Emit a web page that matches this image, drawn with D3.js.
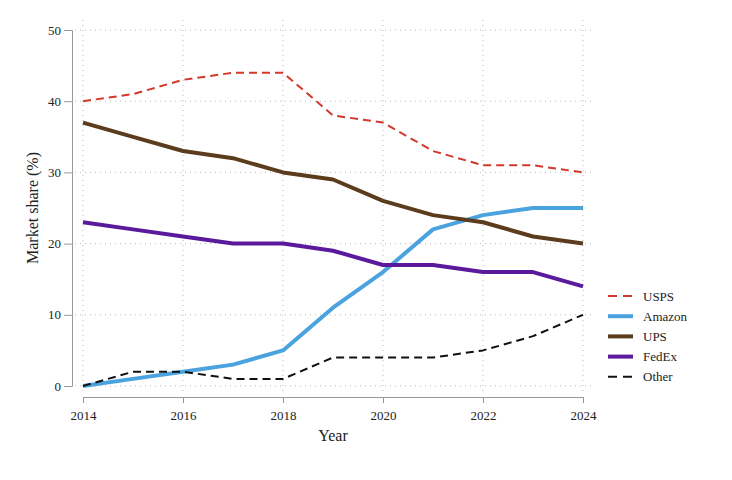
<!DOCTYPE html>
<html>
<head>
<meta charset="utf-8">
<script src="https://cdn.jsdelivr.net/npm/d3@7"></script>
<style>
  body { margin: 0; background: #fff; }
</style>
</head>
<body>
<div id="chart"></div>
<script>
const years = [2014, 2015, 2016, 2017, 2018, 2019, 2020, 2021, 2022, 2023, 2024];
const usps = [40, 41, 43, 44, 44, 38, 37, 33, 31, 31, 30];
const amazon = [0, 1, 2, 3, 5, 11, 16, 22, 24, 25, 25];
const ups = [37, 35, 33, 32, 30, 29, 26, 24, 23, 21, 20];
const fedex = [23, 22, 21, 20, 20, 19, 17, 17, 16, 16, 14];
const other = [0, 2, 2, 1, 1, 4, 4, 4, 5, 7, 10];
const xTicks = [2014, 2016, 2018, 2020, 2022, 2024];
const yTicks = [0, 10, 20, 30, 40, 50];

const series = [
  { name: "USPS", values: usps, color: "#d2382b", width: 2, dash: "8,5" },
  { name: "Amazon", values: amazon, color: "#4aa3df", width: 4, dash: null },
  { name: "UPS", values: ups, color: "#5b3c1c", width: 4, dash: null },
  { name: "FedEx", values: fedex, color: "#5a1a9b", width: 4, dash: null },
  { name: "Other", values: other, color: "#111", width: 2, dash: "8,5" }
];

const serif = '"Liberation Serif", "DejaVu Serif", serif';
const width = 732, height = 480;
const svg = d3.select("#chart").append("svg")
  .attr("width", width)
  .attr("height", height);

const x = d3.scaleLinear().domain([2014, 2024]).range([83, 583]);
const y = d3.scaleLinear().domain([0, 50]).range([386, 30]);

// grid
const grid = svg.append("g");
grid.selectAll(".hg").data(yTicks).join("line")
  .attr("x1", 75).attr("x2", 593)
  .attr("y1", d => y(d)).attr("y2", d => y(d))
  .style("stroke", "#bbb").style("stroke-width", 1)
  .style("stroke-dasharray", "1,4");
grid.selectAll(".vg").data(xTicks).join("line")
  .attr("x1", d => x(d)).attr("x2", d => x(d))
  .attr("y1", 20).attr("y2", 393)
  .style("stroke", "#bbb").style("stroke-width", 1)
  .style("stroke-dasharray", "1,4");

// axes
svg.append("g")
  .attr("transform", "translate(72,0)")
  .call(d3.axisLeft(y).tickValues(yTicks).tickSize(8).tickPadding(3))
  .attr("font-family", serif)
  .call(g => g.select(".domain").attr("stroke", "#999"))
  .call(g => g.selectAll(".tick line").attr("stroke", "#999"))
  .call(g => g.selectAll("text").style("font-size", "13px").style("font-family", serif).style("fill", "#222"));

svg.append("g")
  .attr("transform", "translate(0,397)")
  .call(d3.axisBottom(x).tickValues(xTicks).tickFormat(d3.format("d")).tickSize(6).tickPadding(8))
  .attr("font-family", serif)
  .call(g => g.select(".domain").attr("stroke", "#999"))
  .call(g => g.selectAll(".tick line").attr("stroke", "#999"))
  .call(g => g.selectAll("text").style("font-size", "13px").style("font-family", serif).style("fill", "#222"));

svg.append("text")
  .attr("x", x(2019)).attr("y", 441)
  .attr("text-anchor", "middle")
  .style("font-family", serif)
  .style("font-size", "16px")
  .style("fill", "#222")
  .text("Year");

svg.append("text")
  .attr("transform", "rotate(-90)")
  .attr("x", -208).attr("y", 38)
  .attr("text-anchor", "middle")
  .style("font-family", serif)
  .style("font-size", "16px")
  .style("fill", "#222")
  .text("Market share (%)");

// lines
const line = d3.line()
  .x((d, i) => x(years[i]))
  .y(d => y(d));

svg.append("g").selectAll("path").data(series).join("path")
  .attr("d", d => line(d.values))
  .style("fill", "none")
  .style("stroke", d => d.color)
  .style("stroke-width", d => d.width)
  .style("stroke-dasharray", d => d.dash)
  .style("stroke-linejoin", "round");

// legend
const legend = svg.append("g").attr("transform", "translate(608,296)");
const items = legend.selectAll("g").data(series).join("g")
  .attr("transform", (d, i) => `translate(0,${i * 20.2})`);
items.append("line")
  .attr("x1", 0).attr("x2", 25).attr("y1", 0).attr("y2", 0)
  .style("stroke", d => d.color)
  .style("stroke-width", d => d.width)
  .style("stroke-dasharray", d => d.dash ? "9,6" : null);
items.append("text")
  .attr("x", 35).attr("y", 4.5)
  .style("font-family", serif)
  .style("font-size", "13px")
  .style("fill", "#222")
  .text(d => d.name);
</script>
</body>
</html>
